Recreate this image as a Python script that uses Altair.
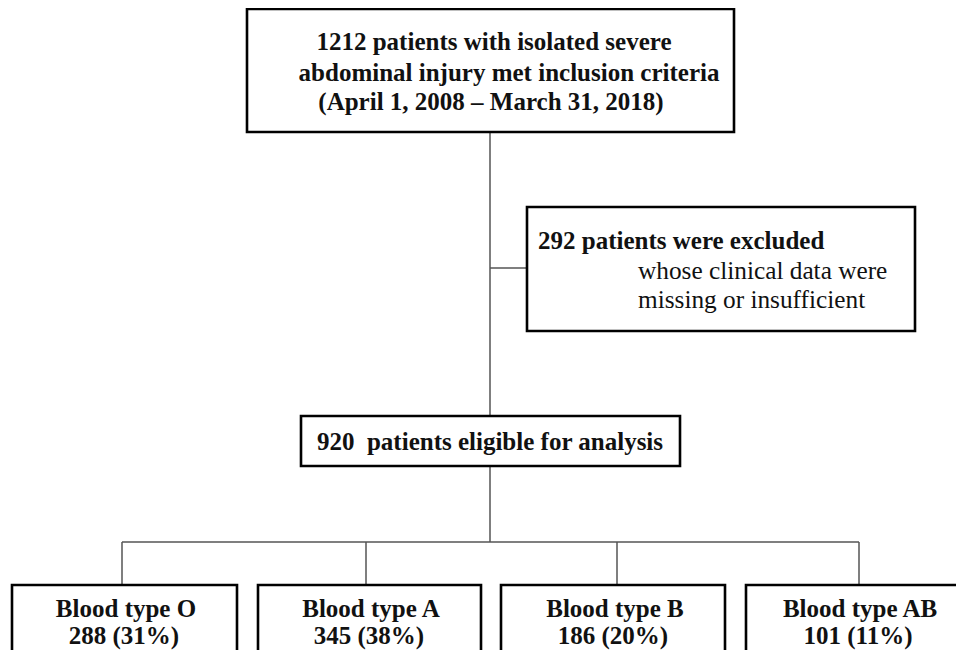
import altair as alt
import pandas as pd

# ---- text content ----
top_lines = ["1212 patients with isolated severe",
             "abdominal injury met inclusion criteria",
             "(April 1, 2008 \u2013 March 31, 2018)"]
excl_title = "292 patients were excluded"
excl_lines = ["whose clinical data were", "missing or insufficient"]
mid_text = "920\u00a0 patients eligible for analysis"
groups = ["Blood type O", "Blood type A", "Blood type B", "Blood type AB"]
counts = [288, 345, 186, 101]
pcts = [31, 38, 20, 11]

# ---- layout (pixel coordinates of the page) ----
boxes = pd.DataFrame({
    "x": [247, 527, 301, 12, 258, 501, 746],
    "x2": [734, 915, 680, 237, 481, 725, 971],
    "y": [9, 207, 416, 585, 585, 585, 585],
    "y2": [132, 331, 466, 720, 720, 720, 720],
})
links = pd.DataFrame({
    "x": [490, 490, 490, 122, 122, 366, 617, 859],
    "x2": [490, 527, 490, 859, 122, 366, 617, 859],
    "y": [132, 268, 466, 542, 542, 542, 542, 542],
    "y2": [416, 268, 542, 542, 585, 585, 585, 585],
})

bold_rows = []
top_cx = [494, 509, 491]
top_by = [50, 81, 110]
for t, cx, by in zip(top_lines, top_cx, top_by):
    bold_rows.append({"t": t, "x": cx, "y": by})
bold_rows.append({"t": mid_text, "x": 490, "y": 450})
grp_cx = [126, 371, 615, 860]
for g, c, p, cx in zip(groups, counts, pcts, grp_cx):
    bold_rows.append({"t": g, "x": cx, "y": 617})
    bold_rows.append({"t": f"{c} ({p}%)", "x": cx - 2, "y": 644})
bold_df = pd.DataFrame(bold_rows)

left_bold = pd.DataFrame([{"t": excl_title, "x": 538, "y": 249}])
left_norm = pd.DataFrame([{"t": excl_lines[0], "x": 638, "y": 279},
                          {"t": excl_lines[1], "x": 638, "y": 308}])

W, H = 948, 642
xs = alt.Scale(domain=[8, 8 + W], range=[0, W], nice=False, zero=False)
ys = alt.Scale(domain=[8, 8 + H], range=[0, H], nice=False, zero=False)
X = lambda f: alt.X(f, type="quantitative", scale=xs, axis=None)
Y = lambda f: alt.Y(f, type="quantitative", scale=ys, axis=None)

rects = alt.Chart(boxes).mark_rect(fill="white", stroke="black", strokeWidth=2.6, clip=True).encode(
    x=X("x"), x2="x2", y=Y("y"), y2="y2")
rules = alt.Chart(links).mark_rule(color="#555555", strokeWidth=1.5).encode(
    x=X("x"), x2="x2", y=Y("y"), y2="y2")
font = "Liberation Serif"
t_center = alt.Chart(bold_df).mark_text(font=font, fontWeight="bold", fontSize=25, align="center",
                                        baseline="alphabetic", color="#111111").encode(
    x=X("x"), y=Y("y"), text="t:N")
t_lb = alt.Chart(left_bold).mark_text(font=font, fontWeight="bold", fontSize=25, align="left",
                                      baseline="alphabetic", color="#111111").encode(
    x=X("x"), y=Y("y"), text="t:N")
t_ln = alt.Chart(left_norm).mark_text(font=font, fontSize=25.3, align="left",
                                      baseline="alphabetic", color="#111111").encode(
    x=X("x"), y=Y("y"), text="t:N")

chart = alt.layer(rules, rects, t_center, t_lb, t_ln).properties(
    width=W, height=H, padding=0, autosize=alt.AutoSizeParams(type="none")
).configure_view(stroke=None)

chart.save("out.html", embed_options={"renderer": "svg", "actions": False})
